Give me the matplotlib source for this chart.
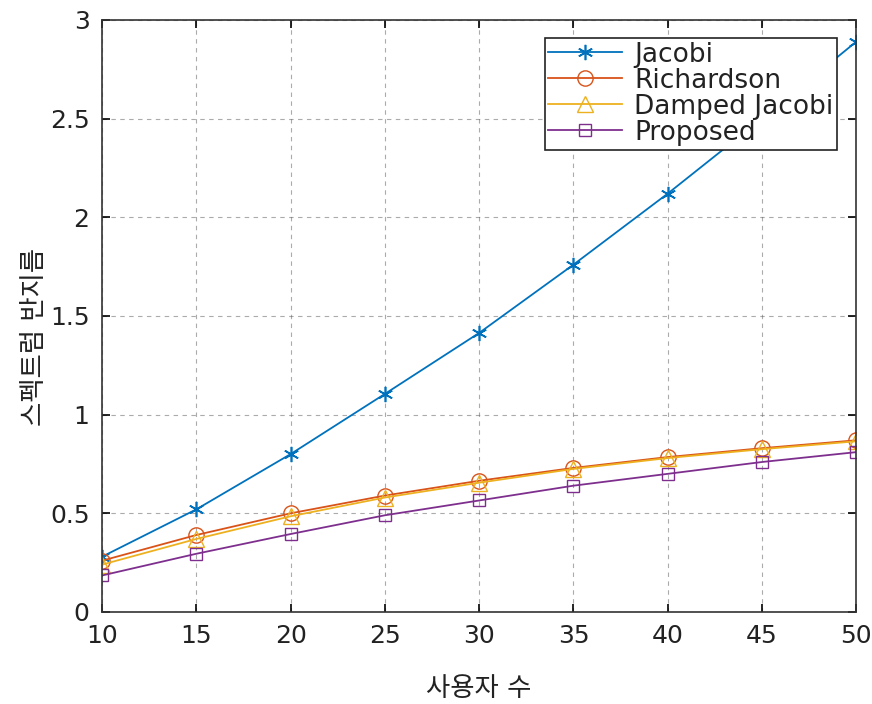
import matplotlib
matplotlib.use('Agg')
import matplotlib.pyplot as plt

# DejaVu for latin/digits, Noto CJK for the hangul axis labels
plt.rcParams['font.family'] = ['DejaVu Sans', 'Noto Sans CJK KR']

# number of users
users = [10, 15, 20, 25, 30, 35, 40, 45, 50]

# spectral radius per method
jacobi = [0.28, 0.52, 0.80, 1.105, 1.414, 1.76, 2.12, 2.50, 2.89]
richardson = [0.26, 0.39, 0.50, 0.59, 0.665, 0.73, 0.785, 0.83, 0.87]
damped_jacobi = [0.24, 0.37, 0.485, 0.58, 0.655, 0.725, 0.78, 0.825, 0.865]
proposed = [0.185, 0.295, 0.395, 0.49, 0.565, 0.64, 0.70, 0.76, 0.81]

xticks = [10, 15, 20, 25, 30, 35, 40, 45, 50]
yticks = [0, 0.5, 1, 1.5, 2, 2.5, 3]
ytick_labels = ['0', '0.5', '1', '1.5', '2', '2.5', '3']

fig = plt.figure(figsize=(8.72, 7.04), dpi=100)
ax = fig.add_axes([0.117, 0.1307, 0.865, 0.841])

ax.plot(users, jacobi, color='#0072BD', marker=(6, 2, 0), markersize=11,
        markeredgewidth=1.2, lw=1.3, label='Jacobi')
ax.plot(users, richardson, color='#D95319', marker='o', markersize=11,
        markerfacecolor='none', lw=1.3, label='Richardson')
ax.plot(users, damped_jacobi, color='#EDB120', marker='^', markersize=11,
        markerfacecolor='none', lw=1.3, label='Damped Jacobi')
ax.plot(users, proposed, color='#7E2F8E', marker='s', markersize=9,
        markerfacecolor='none', lw=1.3, label='Proposed')

ax.set_xlim(10, 50)
ax.set_ylim(0, 3)
ax.set_xticks(xticks)
ax.set_yticks(yticks)
ax.set_yticklabels(ytick_labels)
ax.tick_params(direction='in', top=True, right=True, labelsize=18,
               length=6, width=1.2, pad=9, labelcolor='#222222')
ax.grid(True, linestyle=(0, (4, 4)), color='#666666', lw=0.8, alpha=0.55)
for s in ax.spines.values():
    s.set_linewidth(1.2)
    s.set_color('#333333')

ax.set_xlabel('사용자 수', fontsize=19, labelpad=20, color='#222222')
ax.set_ylabel('스펙트럼 반지름', fontsize=19, color='#222222')
ax.yaxis.set_label_coords(-0.072, 0.465)

leg = ax.legend(loc='upper right', bbox_to_anchor=(0.975, 0.97), fontsize=19,
                fancybox=False, framealpha=1, edgecolor='#222222',
                borderpad=0.15, labelspacing=0.0, handlelength=2.8,
                handletextpad=0.45, borderaxespad=0)
leg.get_frame().set_linewidth(1.2)
for t in leg.get_texts():
    t.set_color('#222222')

fig.savefig('out.png', dpi=100)
